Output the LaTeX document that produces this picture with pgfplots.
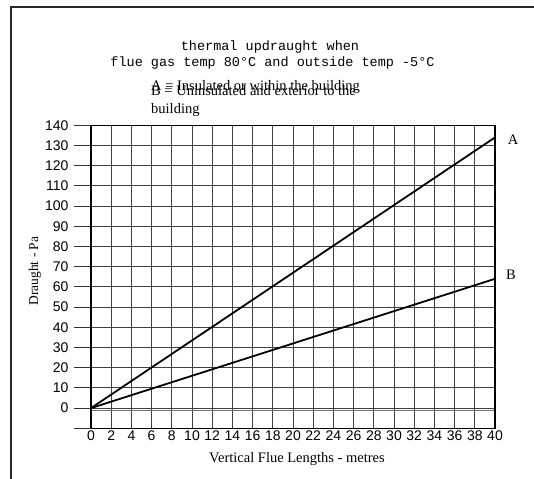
\documentclass[border=0pt]{standalone}
\usepackage{fontspec}
\setmainfont{Liberation Serif}
\newfontfamily\arial{Liberation Sans}
\newfontfamily\mono{Liberation Mono}
\usepackage{pgfplots}
\pgfplotsset{compat=1.18}
\begin{document}
\begin{tikzpicture}[x=1pt,y=1pt]
\useasboundingbox (0,0) rectangle (534,478);
\draw[line width=1.8pt, black!85] (11,-2) -- (11,470.7) -- (536,470.7);
\node[font=\mono\fontsize{13.5}{16}\selectfont] at (270,431.3) {thermal updraught when};
\node[font=\mono\fontsize{13.5}{16}\selectfont] at (272.5,414.7) {flue gas temp 80°C and outside temp -5°C};
\node[anchor=base west, inner sep=0pt, font=\fontsize{14.5}{16}\selectfont] at (151,387.3) {A = Insulated or within the building};
\node[anchor=base west, inner sep=0pt, font=\fontsize{14.5}{16}\selectfont] at (151,382.5) {B = Uninsulated and exterior to the};
\node[anchor=base west, inner sep=0pt, font=\fontsize{14.5}{16}\selectfont] at (151,364.5) {building};
\node[rotate=90, font=\fontsize{13.5}{16}\selectfont] at (35,207) {Draught - Pa};
\node[font=\fontsize{14.5}{16}\selectfont] at (297,19) {Vertical Flue Lengths - metres};
\begin{axis}[
  at={(91pt,49.7pt)}, anchor=south west,
  scale only axis, width=404pt, height=303pt,
  xmin=0, xmax=40, ymin=-10, ymax=140,
  xtick={0,2,...,40},
  ytick={-10,0,10,...,140},
  yticklabels={,0,10,20,30,40,50,60,70,80,90,100,110,120,130,140},
  /pgf/number format/assume math mode=true,
  tick style={draw=none},
  major tick length=0pt,
  grid=major,
  major grid style={black!75, line width=0.9pt},
  axis line style={line width=1.2pt},
  xticklabel style={font=\arial\fontsize{14}{16}\selectfont, inner sep=2pt},
  yticklabel style={font=\arial\fontsize{14}{16}\selectfont, xshift=-19pt},
  clip=false,
]
\pgfplotsinvokeforeach{-10,0,10,20,30,40,50,60,70,80,90,100,110,120,130,140}{
  \draw[black!80, line width=0.9pt] (axis cs:0,#1) -- ([xshift=-17pt]axis cs:0,#1);
}
\draw[black!55, line width=0.9pt] (axis cs:0,-1.3) -- (axis cs:40,-1.3);
\draw[line width=2pt] (axis cs:0,-10) -- (axis cs:0,140);
\draw[line width=2pt] (axis cs:40,-10) -- (axis cs:40,140);
\addplot[black, line width=1.8pt] coordinates {(0,0) (40,134)};
\addplot[black, line width=1.8pt] coordinates {(0,0) (40,64)};
\node[font=\fontsize{14.5}{16}\selectfont] at (axis cs:40,133) [xshift=18pt] {A};
\node[font=\fontsize{14.5}{16}\selectfont] at (axis cs:40,66) [xshift=16pt] {B};
\end{axis}
\end{tikzpicture}
\end{document}
